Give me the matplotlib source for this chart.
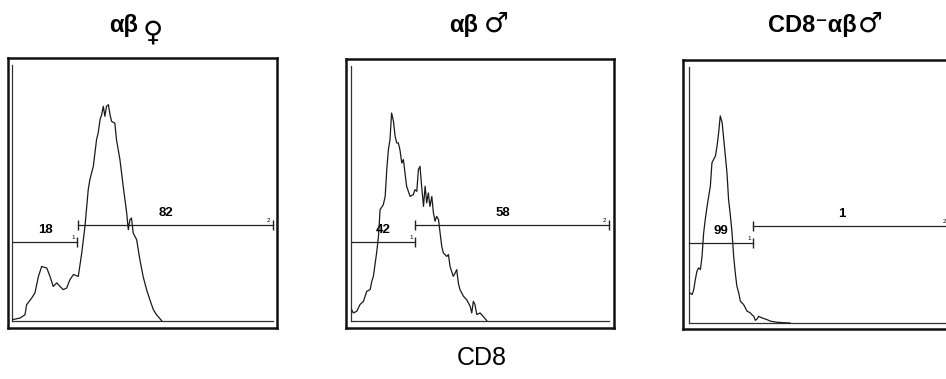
"""CD8 histograms of alpha-beta T cells (female, male, CD8- male)."""

import matplotlib.pyplot as plt

FONT = ["Liberation Sans", "DejaVu Sans"]
SYM_FONT = ["DejaVu Sans"]

TITLES = ["αβ", "αβ", "CD8⁻αβ"]
SEX = ["♀", "♂", "♂"]
X_LABEL = "CD8"

# channel (0-100) and relative count (0-100)
FEMALE_X = [1.7, 4.5, 6.3, 6.9, 8.8, 10.0, 11.3, 12.5, 14.4, 15.6, 16.8, 18.1,
            19.3, 20.5, 21.8, 23.0, 24.3, 26.1, 27.4, 28.6, 29.8, 30.4, 31.7,
            32.9, 33.5, 34.2, 34.8, 35.4, 36.0, 36.6, 37.3, 37.9, 38.5, 39.7,
            40.3, 41.6, 42.8, 44.1, 44.7, 45.3, 45.9, 46.5, 47.8, 49.0, 50.2,
            51.5, 52.7, 54.0, 55.2, 57.1]
FEMALE_Y = [3.1, 3.7, 4.9, 8.6, 11.1, 13.0, 19.1, 22.8, 22.2, 19.1, 15.4, 16.7,
            15.4, 14.2, 14.8, 17.9, 19.8, 19.1, 27.8, 37.7, 51.2, 54.9, 59.9,
            69.8, 72.2, 77.2, 79.0, 82.1, 78.4, 82.1, 82.7, 79.0, 76.5, 75.9,
            69.8, 62.3, 52.5, 42.6, 36.4, 40.1, 40.7, 35.2, 32.7, 25.3, 19.1,
            14.2, 10.5, 6.8, 4.9, 2.7]

MALE_X = [2.1, 2.7, 4.0, 5.2, 6.5, 7.7, 9.0, 9.6, 10.2, 11.4, 12.1, 12.7, 13.9,
          14.6, 15.2, 15.8, 16.4, 17.0, 17.7, 18.3, 18.9, 19.5, 20.1, 20.8,
          21.4, 22.0, 22.6, 23.9, 25.1, 25.7, 26.4, 27.0, 27.6, 28.2, 28.9,
          29.5, 30.1, 30.7, 31.3, 32.0, 32.6, 33.2, 33.8, 34.5, 35.1, 35.7,
          36.3, 37.6, 38.2, 38.8, 40.0, 40.7, 41.3, 41.9, 42.5, 43.8, 45.0,
          46.3, 46.9, 47.5, 48.1, 48.8, 50.0, 51.2, 52.5]
MALE_Y = [6.8, 5.6, 6.2, 8.7, 9.9, 13.6, 14.3, 17.3, 19.2, 27.9, 34.1, 44.0,
          45.8, 48.9, 58.9, 66.3, 70.0, 79.9, 76.8, 71.3, 68.8, 68.8, 66.3,
          61.3, 62.6, 57.6, 52.7, 48.9, 49.6, 51.4, 50.8, 58.9, 60.1, 52.7,
          45.2, 52.7, 46.5, 50.2, 45.2, 48.9, 42.8, 39.7, 41.5, 40.3, 35.3,
          30.4, 27.9, 26.6, 27.3, 22.9, 19.2, 20.4, 21.7, 16.7, 14.3, 11.8,
          10.5, 8.1, 5.6, 9.9, 8.7, 5.0, 5.6, 4.3, 2.7]

NEG_X = [2.5, 3.4, 4.0, 4.6, 5.2, 5.8, 6.5, 7.1, 7.7, 8.3, 9.0, 10.2, 10.8,
         12.1, 12.7, 13.3, 13.9, 14.6, 15.2, 15.8, 16.4, 17.0, 17.7, 18.3,
         18.9, 19.5, 20.1, 20.8, 21.4, 22.6, 23.9, 25.1, 25.7, 26.4, 27.0,
         27.6, 28.2, 29.5, 31.3, 32.6, 35.1, 40.0]
NEG_Y = [13.4, 12.8, 14.6, 18.4, 21.5, 22.7, 22.1, 27.0, 35.7, 40.7, 45.7,
         53.1, 61.8, 64.3, 68.0, 73.0, 79.2, 76.7, 70.5, 64.3, 58.1, 48.1,
         41.9, 35.7, 27.0, 20.8, 15.9, 13.4, 10.3, 9.1, 6.6, 6.0, 5.3, 4.7,
         3.2, 3.7, 4.7, 4.1, 3.5, 2.9, 2.5, 2.2]

# gate markers: (start, end) channel and percentage of cells in each
GATE1 = [(2.0, 25.7), (2.1, 25.7), (2.2, 26.1)]
GATE2 = [(25.9, 98.5), (25.9, 98.3), (26.1, 99.5)]
PCT1 = ["18", "42", "99"]
PCT2 = ["82", "58", "1"]


def draw_panel(fig, rect, xs, ys, gate1, gate2, pct1, pct2):
    ax = fig.add_axes(rect)
    ax.set_xlim(0, 100)
    ax.set_ylim(0, 100)
    ax.set_xticks([])
    ax.set_yticks([])
    for spine in ax.spines.values():
        spine.set_linewidth(1.8)
        spine.set_color("#111111")

    base = ys[-1] if ys[-1] < 3 else 2.5
    # inner axis lines of the cytometer plot
    ax.plot([xs[0] - 0.4, xs[0] - 0.4], [base, 97.5], color="#333333", lw=0.9)
    ax.plot([xs[0] - 0.4, gate2[1]], [base, base], color="#333333", lw=0.9)

    ax.plot(xs, ys, color="#1a1a1a", lw=0.9)

    g1y, g2y = 32.0, 38.3
    ax.plot(gate1, [g1y, g1y], color="#222222", lw=0.9)
    ax.plot([gate1[1]], [g1y], marker="|", ms=7, color="#222222", mew=1.0)
    ax.plot(gate2, [g2y, g2y], color="#222222", lw=0.9)
    ax.plot(gate2, [g2y, g2y], ls="none", marker="|", ms=7,
            color="#222222", mew=1.0)

    ax.text(sum(gate1) / 2, g1y + 2.2, pct1, ha="center", va="bottom",
            fontsize=9.5, fontweight="bold", family=FONT)
    ax.text(sum(gate2) / 2 - 3.5, g2y + 2.2, pct2, ha="center", va="bottom",
            fontsize=9.5, fontweight="bold", family=FONT)
    ax.text(gate1[1] - 1.5, g1y + 0.6, "1", ha="center", va="bottom",
            fontsize=4.5, family=FONT)
    ax.text(gate2[1] - 1.8, g2y + 0.6, "2", ha="center", va="bottom",
            fontsize=4.5, family=FONT)
    return ax


def main():
    fig = plt.figure(figsize=(9.46, 3.79), dpi=100)

    rects = [
        [0.0085, 0.1346, 0.2844, 0.7124],
        [0.3658, 0.1346, 0.2833, 0.7098],
        [0.7220, 0.1320, 0.2833, 0.7098],
    ]
    curves = [(FEMALE_X, FEMALE_Y), (MALE_X, MALE_Y), (NEG_X, NEG_Y)]
    # right edge of the title text and left edge of the sex sign (pixels)
    title_right = [138, 478, 857]
    sign_left = [143, 484, 858]
    sign_base = [40, 32, 32]

    for i, rect in enumerate(rects):
        xs, ys = curves[i]
        draw_panel(fig, rect, xs, ys, GATE1[i], GATE2[i], PCT1[i], PCT2[i])
        fig.text(title_right[i] / 946, 1 - 32 / 379, TITLES[i], ha="right",
                 va="baseline", fontsize=17, fontweight="bold", family=FONT)
        fig.text(sign_left[i] / 946, 1 - sign_base[i] / 379, SEX[i],
                 ha="left", va="baseline", fontsize=20, fontweight="bold",
                 family=SYM_FONT)

    fig.text(0.5095, 0.055, X_LABEL, ha="center", va="center",
             fontsize=18, family=FONT)

    fig.savefig("out.png", dpi=100)
    plt.close(fig)


if __name__ == "__main__":
    main()
